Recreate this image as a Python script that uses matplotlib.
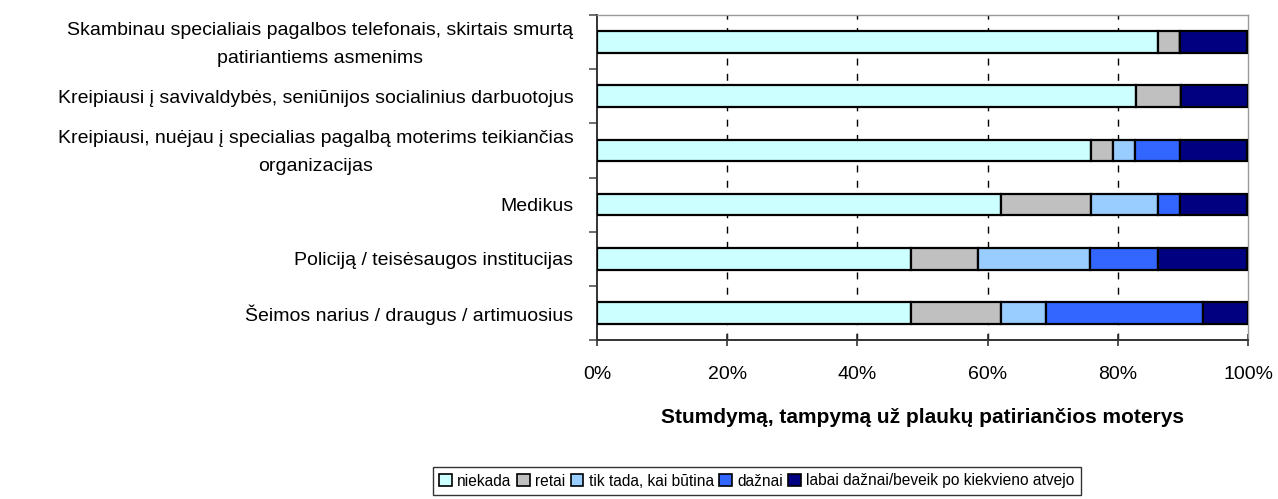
import matplotlib
matplotlib.use("Agg")
import matplotlib.pyplot as plt
from matplotlib.patches import Patch
from matplotlib.transforms import ScaledTranslation
import numpy as np

categories = [
    "Skambinau specialiais pagalbos telefonais, skirtais smurtą\npatiriantiems asmenims",
    "Kreipiausi į savivaldybės, seniūnijos socialinius darbuotojus",
    "Kreipiausi, nuėjau į specialias pagalbą moterims teikiančias\norganizacijas",
    "Medikus",
    "Policiją / teisėsaugos institucijas",
    "Šeimos narius / draugus / artimuosius",
]

series_names = ["niekada", "retai", "tik tada, kai būtina", "dažnai",
                "labai dažnai/beveik po kiekvieno atvejo"]

niekada = [86.2, 82.8, 75.9, 62.1, 48.3, 48.3]
retai = [3.4, 6.9, 3.4, 13.8, 10.3, 13.8]
tik_tada = [0.0, 0.0, 3.4, 10.3, 17.2, 6.9]
daznai = [0.0, 0.0, 6.9, 3.4, 10.3, 24.1]
labai_daznai = [10.3, 10.3, 10.3, 10.3, 13.8, 6.9]

x_ticks = [0, 20, 40, 60, 80, 100]
x_tick_labels = ["0%", "20%", "40%", "60%", "80%", "100%"]
x_title = "Stumdymą, tampymą už plaukų patiriančios moterys"

colors = ["#CCFFFF", "#C0C0C0", "#99CCFF", "#3366FF", "#000080"]

plt.rcParams["font.family"] = ["Liberation Sans", "DejaVu Sans"]

fig = plt.figure(figsize=(12.78, 4.99), dpi=100)
ax = fig.add_axes([597 / 1278, 1 - 340 / 499, 651 / 1278, 325 / 499])

values = [niekada, retai, tik_tada, daznai, labai_daznai]
y = np.arange(len(categories))
left = np.zeros(len(categories))
for vals, col, name in zip(values, colors, series_names):
    v = np.array(vals)
    ax.barh(y, v, left=left, height=0.4, color=col, edgecolor="black",
            linewidth=1.6, label=name, zorder=3)
    left += v

ax.set_xlim(0, 100)
ax.set_ylim(len(categories) - 0.5, -0.5)

# vertical dashed grid
for xv in x_ticks[1:-1]:
    ax.axvline(xv, color="black", linestyle=(0, (5, 6)), linewidth=1.0, zorder=1)

ax.set_xticks(x_ticks)
ax.set_xticklabels(x_tick_labels, fontsize=14)
ax.tick_params(axis="x", direction="inout", length=8, width=1.2, pad=15,
               colors="#333333", labelcolor="black")

ax.set_yticks(y)
ax.set_yticklabels(categories, fontsize=14, multialignment="center", linespacing=1.85)
ax.tick_params(axis="y", length=0, pad=17)
ax.set_yticks(np.arange(-0.5, len(categories) + 0.5, 1), minor=True)
ax.tick_params(axis="y", which="minor", direction="out", length=6, width=1.2,
               colors="#555555")

# wrapped labels sit slightly higher than their bar
for lab in ax.get_yticklabels():
    if "\n" in lab.get_text():
        lab.set_transform(lab.get_transform() + ScaledTranslation(0, 5 / 100, fig.dpi_scale_trans))

for side in ["left", "bottom"]:
    ax.spines[side].set_color("#333333")
    ax.spines[side].set_linewidth(1.4)
for side in ["top", "right"]:
    ax.spines[side].set_color("#999999")
    ax.spines[side].set_linewidth(1.0)

ax.set_xlabel(x_title, fontsize=15, fontweight="bold", labelpad=18)

handles = [Patch(facecolor=c, edgecolor="black", linewidth=1.2) for c in colors]
fig.legend(handles, series_names, loc="center", bbox_to_anchor=(757 / 1278, 1 - 481 / 499),
           ncol=5, frameon=True, fancybox=False, edgecolor="black", fontsize=11.2,
           handlelength=0.8, handleheight=0.8, handletextpad=0.35, columnspacing=0.35,
           borderpad=0.4)

fig.savefig("out.png", dpi=100)
